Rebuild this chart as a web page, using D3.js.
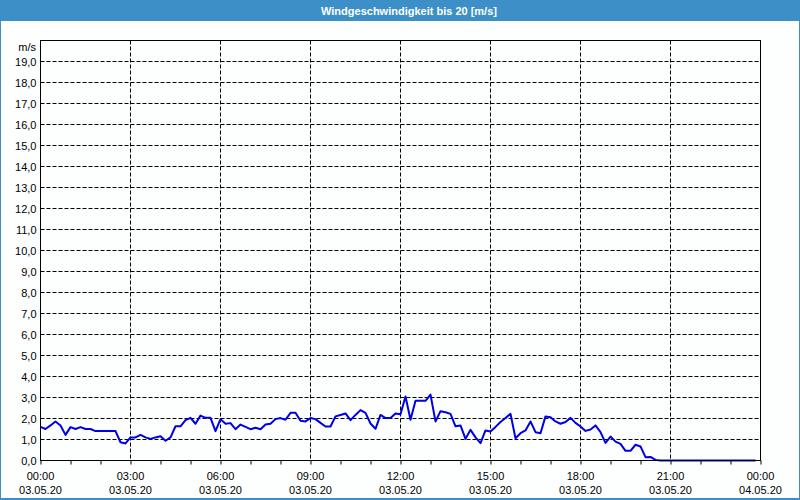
<!DOCTYPE html>
<html>
<head>
<meta charset="utf-8">
<script src="https://cdn.jsdelivr.net/npm/d3@7"></script>
<style>
  html, body { margin: 0; padding: 0; background: #fdfefe; }
  svg { display: block; }
  text { font-family: "Liberation Sans", Arial, sans-serif; font-size: 11px; fill: #000; }
</style>
</head>
<body>
<svg id="chart" width="800" height="500"></svg>
<script>
// ---- data ----
const title = "Windgeschwindigkeit bis 20 [m/s]";
const unitLabel = "m/s";
const stepMinutes = 10; // one value every 10 minutes starting 03.05.20 00:00
const windSpeed = [
  1.60, 1.50, 1.67, 1.86, 1.67, 1.22, 1.59, 1.50, 1.59, 1.50, 1.50, 1.40,
  1.40, 1.40, 1.40, 1.40, 0.87, 0.81, 1.10, 1.10, 1.22, 1.10, 1.03, 1.10,
  1.15, 0.94, 1.10, 1.63, 1.63, 1.92, 2.03, 1.75, 2.14, 2.03, 2.03, 1.40,
  1.97, 1.75, 1.78, 1.49, 1.71, 1.60, 1.49, 1.56, 1.49, 1.71, 1.75, 1.97,
  2.02, 1.94, 2.27, 2.27, 1.89, 1.86, 2.02, 1.97, 1.79, 1.62, 1.62, 2.10,
  2.17, 2.24, 1.92, 2.17, 2.40, 2.27, 1.76, 1.51, 2.17, 2.02, 2.02, 2.24,
  2.20, 3.05, 1.94, 2.84, 2.84, 2.84, 3.14, 1.86, 2.35, 2.30, 2.22, 1.63,
  1.67, 1.03, 1.46, 1.10, 0.83, 1.43, 1.38, 1.60, 1.83, 2.02, 2.22, 1.06,
  1.30, 1.43, 1.86, 1.35, 1.30, 2.10, 2.06, 1.86, 1.75, 1.83, 2.03, 1.79,
  1.62, 1.41, 1.48, 1.67, 1.35, 0.84, 1.14, 0.90, 0.79, 0.46, 0.46, 0.75,
  0.67, 0.16, 0.17, 0.03, 0.00, 0.00, 0.00, 0.00, 0.00, 0.00, 0.00, 0.00,
  0.00, 0.00, 0.00, 0.00, 0.00, 0.00, 0.00, 0.00, 0.00, 0.00, 0.00, 0.00
];
const yTicks = [0,1,2,3,4,5,6,7,8,9,10,11,12,13,14,15,16,17,18,19];
const xTickHours = [0, 3, 6, 9, 12, 15, 18, 21, 24];
const xTimeLabels = ["00:00","03:00","06:00","09:00","12:00","15:00","18:00","21:00","00:00"];
const xDateLabels = ["03.05.20","03.05.20","03.05.20","03.05.20","03.05.20","03.05.20","03.05.20","03.05.20","04.05.20"];
const minorHours = d3.range(0, 25, 1);

// ---- layout ----
const W = 800, H = 500;
const pLeft = 40.5, pRight = 760.5, pTop = 40.5, pBottom = 460.5;
const svg = d3.select("#chart");

// window frame & title bar
svg.append("rect").attr("x", 0).attr("y", 0).attr("width", W).attr("height", H).attr("fill", "#fdfefe");
svg.append("rect").attr("x", 0).attr("y", 0).attr("width", W).attr("height", 21).attr("fill", "#3d8fc7");
svg.append("rect").attr("x", 0.5).attr("y", 0.5).attr("width", W - 1).attr("height", H - 1)
  .attr("fill", "none").attr("stroke", "#3d8fc7").attr("stroke-width", 1);
svg.append("line").attr("x1", 0).attr("x2", W).attr("y1", H - 1).attr("y2", H - 1).attr("stroke", "#3d8fc7").attr("stroke-width", 2);
svg.append("text").attr("x", 409).attr("y", 15).attr("text-anchor", "middle")
  .style("fill", "#ffffff").style("font-weight", "bold").text(title);

// scales
const x = d3.scaleLinear().domain([0, 24]).range([pLeft, pRight]);
const y = d3.scaleLinear().domain([0, 20]).range([pBottom, pTop]);

// horizontal grid
svg.append("g").selectAll("line").data(yTicks.filter(d => d > 0)).join("line")
  .attr("x1", pLeft).attr("x2", pRight)
  .attr("y1", d => y(d)).attr("y2", d => y(d))
  .attr("stroke", "#000").attr("stroke-width", 1).attr("stroke-dasharray", "4,2");

// vertical grid
svg.append("g").selectAll("line").data(xTickHours.filter(d => d > 0 && d < 24)).join("line")
  .attr("x1", d => x(d)).attr("x2", d => x(d))
  .attr("y1", pTop).attr("y2", pBottom)
  .attr("stroke", "#000").attr("stroke-width", 1).attr("stroke-dasharray", "4,2");

// y axis labels (via axis)
const yAxis = d3.axisLeft(y).tickValues(yTicks).tickSize(0).tickPadding(4)
  .tickFormat(d => d3.format(".1f")(d).replace(".", ","));
const gy = svg.append("g").attr("transform", `translate(${pLeft},0)`).call(yAxis);
gy.select(".domain").remove();
gy.selectAll("text").style("font-family", "'Liberation Sans', Arial, sans-serif").style("font-size", "11px").attr("fill", "#000");

svg.append("text").attr("x", 36).attr("y", 51).attr("text-anchor", "end").text(unitLabel);

// x axis minor ticks
const xAxis = d3.axisBottom(x).tickValues(minorHours).tickSize(4).tickFormat("");
const gx = svg.append("g").attr("transform", `translate(0,${pBottom})`).call(xAxis);
gx.select(".domain").remove();
gx.selectAll("line").attr("stroke", "#000");

// x labels
const lab = svg.append("g").selectAll("g").data(xTickHours).join("g");
lab.append("text").attr("x", d => x(d)).attr("y", 480).attr("text-anchor", "middle").text((d, i) => xTimeLabels[i]);
lab.append("text").attr("x", d => x(d)).attr("y", 494).attr("text-anchor", "middle").text((d, i) => xDateLabels[i]);

// data line
const line = d3.line()
  .x((d, i) => x(i * stepMinutes / 60))
  .y(d => y(d));
svg.append("path").datum(windSpeed).attr("d", line)
  .attr("fill", "none").attr("stroke", "#0000e6").attr("stroke-width", 2).attr("stroke-linejoin", "round");

// plot frame
svg.append("rect").attr("x", pLeft).attr("y", pTop).attr("width", pRight - pLeft).attr("height", pBottom - pTop)
  .attr("fill", "none").attr("stroke", "#000").attr("stroke-width", 1);
</script>
</body>
</html>
